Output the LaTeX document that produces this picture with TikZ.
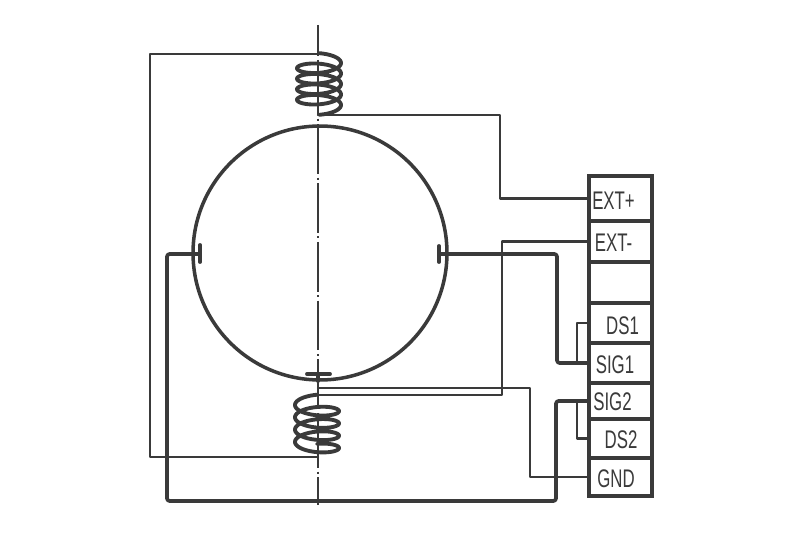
\documentclass[tikz,border=0pt]{standalone}
\usepackage{fontspec}
\setmainfont{Liberation Sans}
\usetikzlibrary{positioning}
\definecolor{ink}{HTML}{3A3A3A}
\tikzset{
  thinwire/.style={ink, line width=1.25pt, line join=round},
  thickwire/.style={ink, line width=2.1pt, line join=round, rounded corners=1.5pt},
  coil/.style={ink, line width=2.2pt, line cap=round},
  cell/.style={draw=ink, line width=2.2pt, minimum width=1.26cm, inner sep=0pt, outer sep=0pt, anchor=north west},
  termtext/.style={ink, font=\fontsize{14.5}{15}\selectfont, xscale=0.66, inner sep=0pt},
}
\begin{document}
\begin{tikzpicture}[x=0.02cm, y=-0.02cm, line cap=round]
\useasboundingbox (0,0) rectangle (790,554);

% axis
\draw[ink, line width=1pt, line cap=butt, dash pattern=on 28.35pt off 2pt on 1.13pt off 2pt, dash phase=10.5pt] (318,25) -- (318,505);

% rotor
\node[circle, draw=ink, line width=2pt, minimum size=5.08cm, inner sep=0pt, outer sep=0pt] (rotor) at (320,253) {};

% brushes
\coordinate (brushL) at (200,254);
\coordinate (brushR) at (439,254);
\coordinate (brushB) at (318,374);
\draw[ink, line width=2.2pt] (200,245) -- (200,262);
\draw[ink, line width=2.2pt] (439,246) -- (439,262);
\draw[ink, line width=2.2pt] (307,374) -- (330,374);
\draw[ink, line width=2.2pt] (brushB) -- (318,381);

% coils
\draw[coil] plot[domain=-90:1530, samples=240, smooth, variable=\t] ({319+22*cos(\t)},{63+\t*0.029167+7.2*sin(\t)});
\draw[coil] plot[domain=-90:1350, samples=240, smooth, variable=\t] ({317-22*cos(\t)},{405+\t*0.034127+7.2*sin(\t)});
\coordinate (coilAin) at (318,54);
\coordinate (coilAout) at (318,115);
\coordinate (coilBin) at (318,395);
\coordinate (coilBout) at (318,457);
\coordinate (gndtap) at (318,388);

% terminal block
\node[cell, minimum height=0.9cm] (extp) at (589,176) {};
\node[cell, minimum height=0.82cm] (extm) at (589,221) {};
\node[cell, minimum height=0.82cm] (spare) at (589,262) {};
\node[cell, minimum height=0.8cm] (dsa) at (589,303) {};
\node[cell, minimum height=0.8cm] (siga) at (589,343) {};
\node[cell, minimum height=0.72cm] (sigb) at (589,383) {};
\node[cell, minimum height=0.78cm] (dsb) at (589,419) {};
\node[cell, minimum height=0.76cm] (gnd) at (589,458) {};

\node[termtext] (textp) at (613.5,201) {EXT+};
\node[termtext] (textm) at (613.5,243) {EXT-};
\node[termtext] (tdsa) at (622.5,326) {DS1};
\node[termtext] (tsiga) at (615,365) {SIG1};
\node[termtext] (tsigb) at (612.5,402) {SIG2};
\node[termtext] (tdsb) at (621,440) {DS2};
\node[termtext] (tgnd) at (616,479) {GND};

% thin wires
\draw[thinwire] (coilAin) -- (150,54) -- (150,457) -- (coilBout);
\draw[thinwire] (coilAout) -- (500,115) |- (extp.west);
\draw[thinwire] (extm.west) -| (502,395) -- (coilBin);
\draw[thinwire] (gnd.west) -| (530,388) -- (gndtap);
\draw[thinwire] (dsa.west) -| (577,363);
\draw[thinwire] (dsb.west) -| (577,401);

% thick wires
\draw[thickwire] (brushR) -- (557,254) |- (siga.west);
\draw[thickwire] (brushL) -- (167,254) -- (167,501) -- (556,501) |- (sigb.west);
\end{tikzpicture}
\end{document}
